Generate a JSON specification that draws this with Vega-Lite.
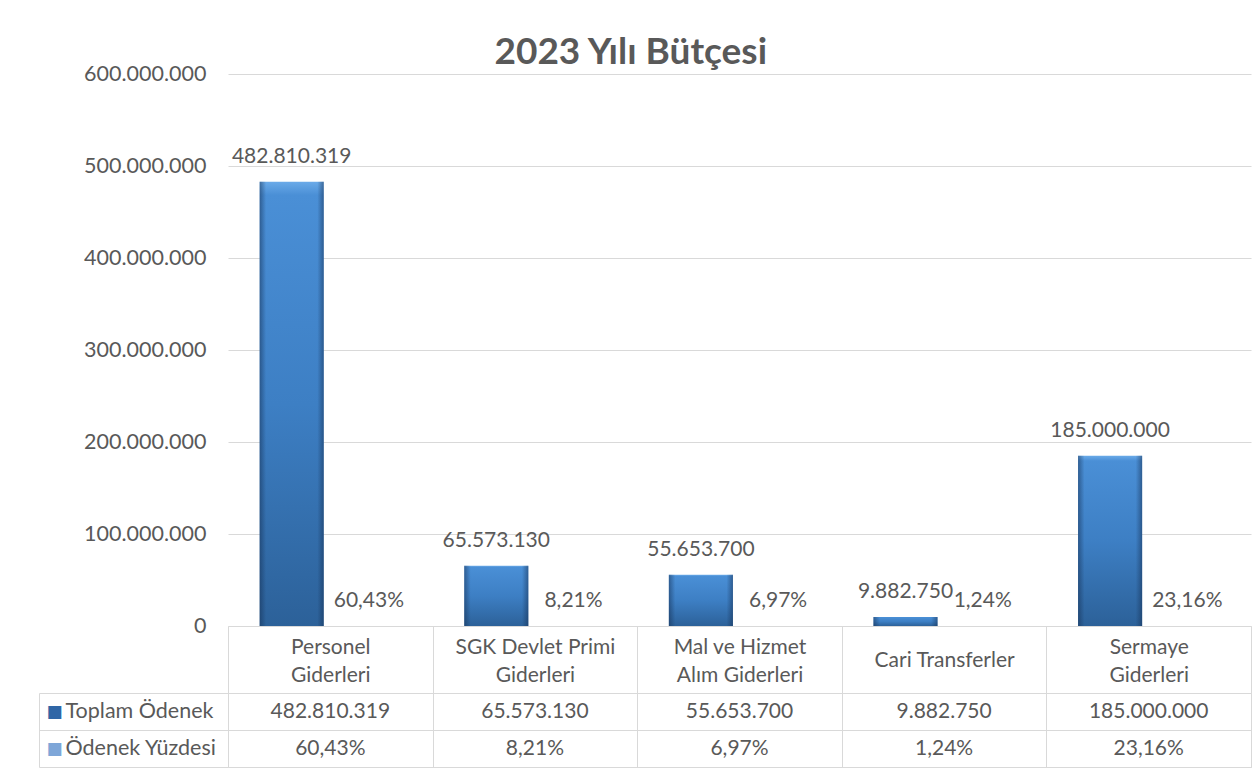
{
  "$schema": "https://vega.github.io/schema/vega-lite/v6.json",
  "padding": {"left": 38, "top": 33, "right": 5, "bottom": 3},
  "background": "white",
  "config": {
    "locale": {"number": {"decimal": ",", "thousands": ".", "grouping": [3], "currency": ["", " ₺"]}},
    "font": "Lato",
    "view": {"stroke": null},
    "title": {"font": "Lato", "fontWeight": "bold", "fontSize": 37, "color": "#595959"}
  },
  "title": {"text": "2023 Yılı Bütçesi", "anchor": "middle", "frame": "bounds", "dx": -14, "offset": -8.5},
  "datasets": {
    "butce": [
      {"kategori": "Personel Giderleri", "toplam": 482810319, "yuzde": 0.6043},
      {"kategori": "SGK Devlet Primi Giderleri", "toplam": 65573130, "yuzde": 0.0821},
      {"kategori": "Mal ve Hizmet Alım Giderleri", "toplam": 55653700, "yuzde": 0.0697},
      {"kategori": "Cari Transferler", "toplam": 9882750, "yuzde": 0.0124},
      {"kategori": "Sermaye Giderleri", "toplam": 185000000, "yuzde": 0.2316}
    ]
  },
  "bounds": "flush",
  "spacing": 67,
  "vconcat": [
    {
      "width": 1023,
      "height": 552,
      "data": {"name": "butce"},
      "transform": [{"fold": ["toplam", "yuzde"], "as": ["seri", "deger"]}],
      "encoding": {
        "x": {
          "field": "kategori", "type": "nominal", "sort": null, "title": null,
          "scale": {"paddingInner": 0, "paddingOuter": 0},
          "axis": {
            "domain": true, "domainColor": "#d9d9d9", "domainWidth": 1,
            "ticks": true, "tickBand": "extent", "tickSize": 67, "tickColor": "#d9d9d9", "tickWidth": 1,
            "labelExpr": "datum.label == 'Personel Giderleri' ? ['Personel', 'Giderleri'] : datum.label == 'SGK Devlet Primi Giderleri' ? ['SGK Devlet Primi', 'Giderleri'] : datum.label == 'Mal ve Hizmet Alım Giderleri' ? ['Mal ve Hizmet', 'Alım Giderleri'] : datum.label == 'Sermaye Giderleri' ? ['Sermaye', 'Giderleri'] : datum.label",
            "labelAngle": 0, "labelFontSize": 21, "labelColor": "#595959", "labelLineHeight": 28,
            "labelBaseline": "middle",
            "labelPadding": {"condition": {"test": "datum.value == 'Cari Transferler'", "value": -33}, "value": -46},
            "labelLimit": 0, "labelOverlap": false, "grid": false
          }
        },
        "xOffset": {
          "field": "seri", "type": "nominal",
          "scale": {"domain": ["toplam", "yuzde"], "paddingInner": 0.17, "paddingOuter": 0.41}
        },
        "y": {
          "field": "deger", "type": "quantitative", "title": null,
          "scale": {"domain": [0, 600000000]},
          "axis": {
            "values": [0, 100000000, 200000000, 300000000, 400000000, 500000000, 600000000],
            "format": ",d", "domain": false, "ticks": false, "labelPadding": 22,
            "labelFontSize": 21.5, "labelColor": "#595959", "grid": true, "gridColor": "#d9d9d9", "gridWidth": 1
          }
        }
      },
      "layer": [
        {
          "mark": {
            "type": "bar",
            "color": {"gradient": "linear", "x1": 0, "y1": 0, "x2": 0, "y2": 1,
              "stops": [
                {"offset": 0, "color": "#6aaae8"},
                {"offset": 0.03, "color": "#4a8fd6"},
                {"offset": 0.5, "color": "#3d7fc4"},
                {"offset": 1, "color": "#2c6199"}
              ]}
          }
        },
        {
          "mark": {
            "type": "bar",
            "color": {"gradient": "linear", "x1": 0, "y1": 0, "x2": 1, "y2": 0,
              "stops": [
                {"offset": 0, "color": "rgba(20,45,80,0.5)"},
                {"offset": 0.1, "color": "rgba(20,45,80,0)"},
                {"offset": 0.9, "color": "rgba(20,45,80,0)"},
                {"offset": 1, "color": "rgba(20,45,80,0.5)"}
              ]}
          }
        },
        {
          "transform": [{"filter": "datum.seri == 'toplam'"}],
          "mark": {"type": "text", "baseline": "alphabetic", "dy": -19, "fontSize": 21, "color": "#595959"},
          "encoding": {"text": {"field": "deger", "type": "quantitative", "format": ",d"}}
        },
        {
          "transform": [{"filter": "datum.seri == 'yuzde'"}],
          "mark": {"type": "text", "baseline": "alphabetic", "dy": -19, "fontSize": 21, "color": "#595959"},
          "encoding": {"text": {"field": "deger", "type": "quantitative", "format": ".2%"}}
        }
      ]
    },
    {
      "width": 1023,
      "height": 74,
      "data": {"name": "butce"},
      "view": {"stroke": "#d9d9d9"},
      "encoding": {
        "x": {
          "field": "kategori", "type": "nominal", "sort": null, "title": null,
          "scale": {"paddingInner": 0, "paddingOuter": 0},
          "axis": {"labels": false, "ticks": false, "domain": false, "grid": true, "tickBand": "extent", "gridColor": "#d9d9d9", "gridWidth": 1}
        }
      },
      "layer": [
        {
          "mark": {"type": "text", "fontSize": 21, "color": "#595959", "baseline": "middle"},
          "encoding": {
            "y": {
              "datum": "Toplam Ödenek", "type": "nominal", "title": null,
              "scale": {"domain": ["Toplam Ödenek", "Ödenek Yüzdesi"], "paddingInner": 0, "paddingOuter": 0},
              "axis": {
                "orient": "left", "domain": false, "ticks": true, "tickBand": "extent", "tickSize": 189,
                "tickColor": "#d9d9d9", "grid": true, "gridColor": "#d9d9d9", "gridWidth": 1,
                "labelAlign": "left", "labelPadding": -26, "labelFontSize": 21.5, "labelColor": "#595959",
                "labelBaseline": "middle", "labelLimit": 0
              }
            },
            "text": {"field": "toplam", "type": "quantitative", "format": ",d"}
          }
        },
        {
          "mark": {"type": "text", "fontSize": 21, "color": "#595959", "baseline": "middle"},
          "encoding": {
            "y": {
              "datum": "Ödenek Yüzdesi", "type": "nominal", "title": null,
              "scale": {"domain": ["Toplam Ödenek", "Ödenek Yüzdesi"], "paddingInner": 0, "paddingOuter": 0},
              "axis": {
                "orient": "left", "offset": 189, "domain": true, "domainColor": "#d9d9d9", "ticks": false, "grid": false,
                "labelExpr": "'■'", "labelAlign": "left", "labelPadding": -7, "labelFont": "DejaVu Sans", "labelFontSize": 17,
                "labelColor": {"condition": {"test": "datum.value == 'Toplam Ödenek'", "value": "#2f66a6"}, "value": "#7ea6d8"},
                "labelBaseline": "middle"
              }
            },
            "text": {"field": "yuzde", "type": "quantitative", "format": ".2%"}
          }
        }
      ],
      "resolve": {"axis": {"y": "independent"}}
    }
  ]
}
